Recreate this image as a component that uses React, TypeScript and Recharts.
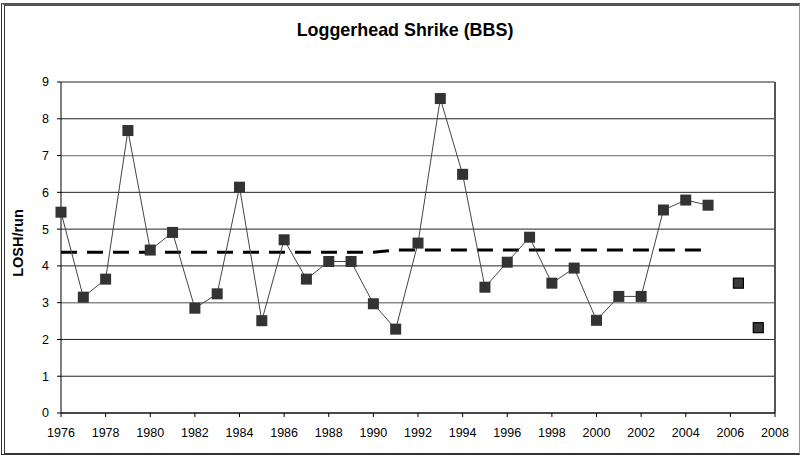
import React from 'react';
import {
  LineChart,
  Line,
  XAxis,
  YAxis,
  CartesianGrid,
  ReferenceLine,
} from 'recharts';

const YEARS = [
  1976, 1977, 1978, 1979, 1980, 1981, 1982, 1983, 1984, 1985,
  1986, 1987, 1988, 1989, 1990, 1991, 1992, 1993, 1994, 1995,
  1996, 1997, 1998, 1999, 2000, 2001, 2002, 2003, 2004, 2005,
];
const LOSH_PER_RUN = [
  5.46, 3.15, 3.64, 7.68, 4.43, 4.91, 2.85, 3.24, 6.14, 2.51,
  4.71, 3.64, 4.12, 4.12, 2.97, 2.28, 4.62, 8.55, 6.49, 3.42,
  4.1, 4.78, 3.53, 3.94, 2.52, 3.17, 3.17, 5.52, 5.79, 5.65,
];
const TREND = [
  4.37, 4.37, 4.37, 4.37, 4.37, 4.37, 4.37, 4.37, 4.37, 4.37,
  4.37, 4.37, 4.37, 4.37, 4.37, 4.43, 4.43, 4.43, 4.43, 4.43,
  4.43, 4.43, 4.43, 4.43, 4.43, 4.43, 4.43, 4.43, 4.43, 4.43,
];
const EXTRA_YEARS = [2006.36, 2007.25];
const EXTRA_VALUES = [3.53, 2.32];

const X_TICKS = [1976, 1978, 1980, 1982, 1984, 1986, 1988, 1990, 1992, 1994, 1996, 1998, 2000, 2002, 2004, 2006, 2008];
const Y_TICKS = [0, 1, 2, 3, 4, 5, 6, 7, 8, 9];

const FONT = '"Liberation Sans", Arial, Helvetica, sans-serif';

const mainData = YEARS.map((year, i) => ({ year, value: LOSH_PER_RUN[i] }));
const trendData = YEARS.map((year, i) => ({ year, trend: TREND[i] }));
const extraData = EXTRA_YEARS.map((year, i) => ({ year, value: EXTRA_VALUES[i] }));

const SquareDot = (props: any) => {
  const { cx, cy, index } = props;
  if (cx == null || cy == null) return null;
  return <rect key={index} x={cx - 5.5} y={cy - 5.5} width={11} height={11} fill="#333" />;
};

const BorderedDot = (props: any) => {
  const { cx, cy, index } = props;
  if (cx == null || cy == null) return null;
  return (
    <rect key={index} x={cx - 5} y={cy - 5} width={10} height={10} fill="#3a3a3a" stroke="#000" strokeWidth={1.2} />
  );
};

export default function App() {
  const tick = { fill: '#000', fontSize: 12.5, fontFamily: FONT };
  return (
    <div style={{ position: 'relative', width: 802, height: 456, background: '#fff', overflow: 'hidden' }}>
      <style>{'body{margin:0}'}</style>
      <div
        style={{
          position: 'absolute',
          left: 1,
          top: 3,
          width: 799,
          height: 452,
          boxSizing: 'border-box',
          borderLeft: '4px double #333',
          borderTop: '3px solid #555',
          borderRight: '1px solid #999',
          borderBottom: '2px solid #333',
        }}
      />
      <div
        style={{
          position: 'absolute',
          left: 0,
          top: 20.4,
          width: 810,
          textAlign: 'center',
          fontFamily: FONT,
          fontWeight: 'bold',
          fontSize: 17.9,
          lineHeight: '20px',
          color: '#000',
        }}
      >
        Loggerhead Shrike (BBS)
      </div>
      <div
        style={{
          position: 'absolute',
          left: -32,
          top: 234.5,
          width: 100,
          height: 16,
          textAlign: 'center',
          fontFamily: FONT,
          fontWeight: 'bold',
          fontSize: 14.5,
          lineHeight: '16px',
          color: '#000',
          transform: 'rotate(-90deg)',
        }}
      >
        LOSH/run
      </div>
      <div style={{ position: 'absolute', left: 0, top: 0 }}>
        <LineChart width={802} height={456} margin={{ top: 82, right: 27, bottom: 0, left: 0 }}>
          <CartesianGrid horizontal vertical={false} stroke="#222" strokeWidth={1} />
          <XAxis
            type="number"
            dataKey="year"
            domain={[1976, 2008]}
            ticks={X_TICKS}
            interval={0}
            height={43}
            tick={tick}
            tickSize={4}
            tickMargin={11}
            stroke="#000"
            allowDuplicatedCategory={false}
          />
          <YAxis
            type="number"
            domain={[0, 9]}
            ticks={Y_TICKS}
            interval={0}
            width={61}
            tick={tick}
            tickSize={4}
            tickMargin={8}
            stroke="#000"
          />
          <ReferenceLine y={3} stroke="#888" strokeWidth={1.2} />
          <ReferenceLine y={7} stroke="#888" strokeWidth={1.2} />
          <ReferenceLine x={2008} stroke="#555" strokeWidth={2} />
          <Line
            data={trendData}
            dataKey="trend"
            type="linear"
            stroke="#000"
            strokeWidth={3}
            strokeDasharray="16 10"
            dot={false}
            activeDot={false}
            isAnimationActive={false}
          />
          <Line
            data={mainData}
            dataKey="value"
            type="linear"
            stroke="#444"
            strokeWidth={1}
            dot={SquareDot}
            activeDot={false}
            isAnimationActive={false}
          />
          <Line
            data={extraData}
            dataKey="value"
            type="linear"
            stroke="none"
            dot={BorderedDot}
            activeDot={false}
            isAnimationActive={false}
          />
        </LineChart>
      </div>
    </div>
  );
}
